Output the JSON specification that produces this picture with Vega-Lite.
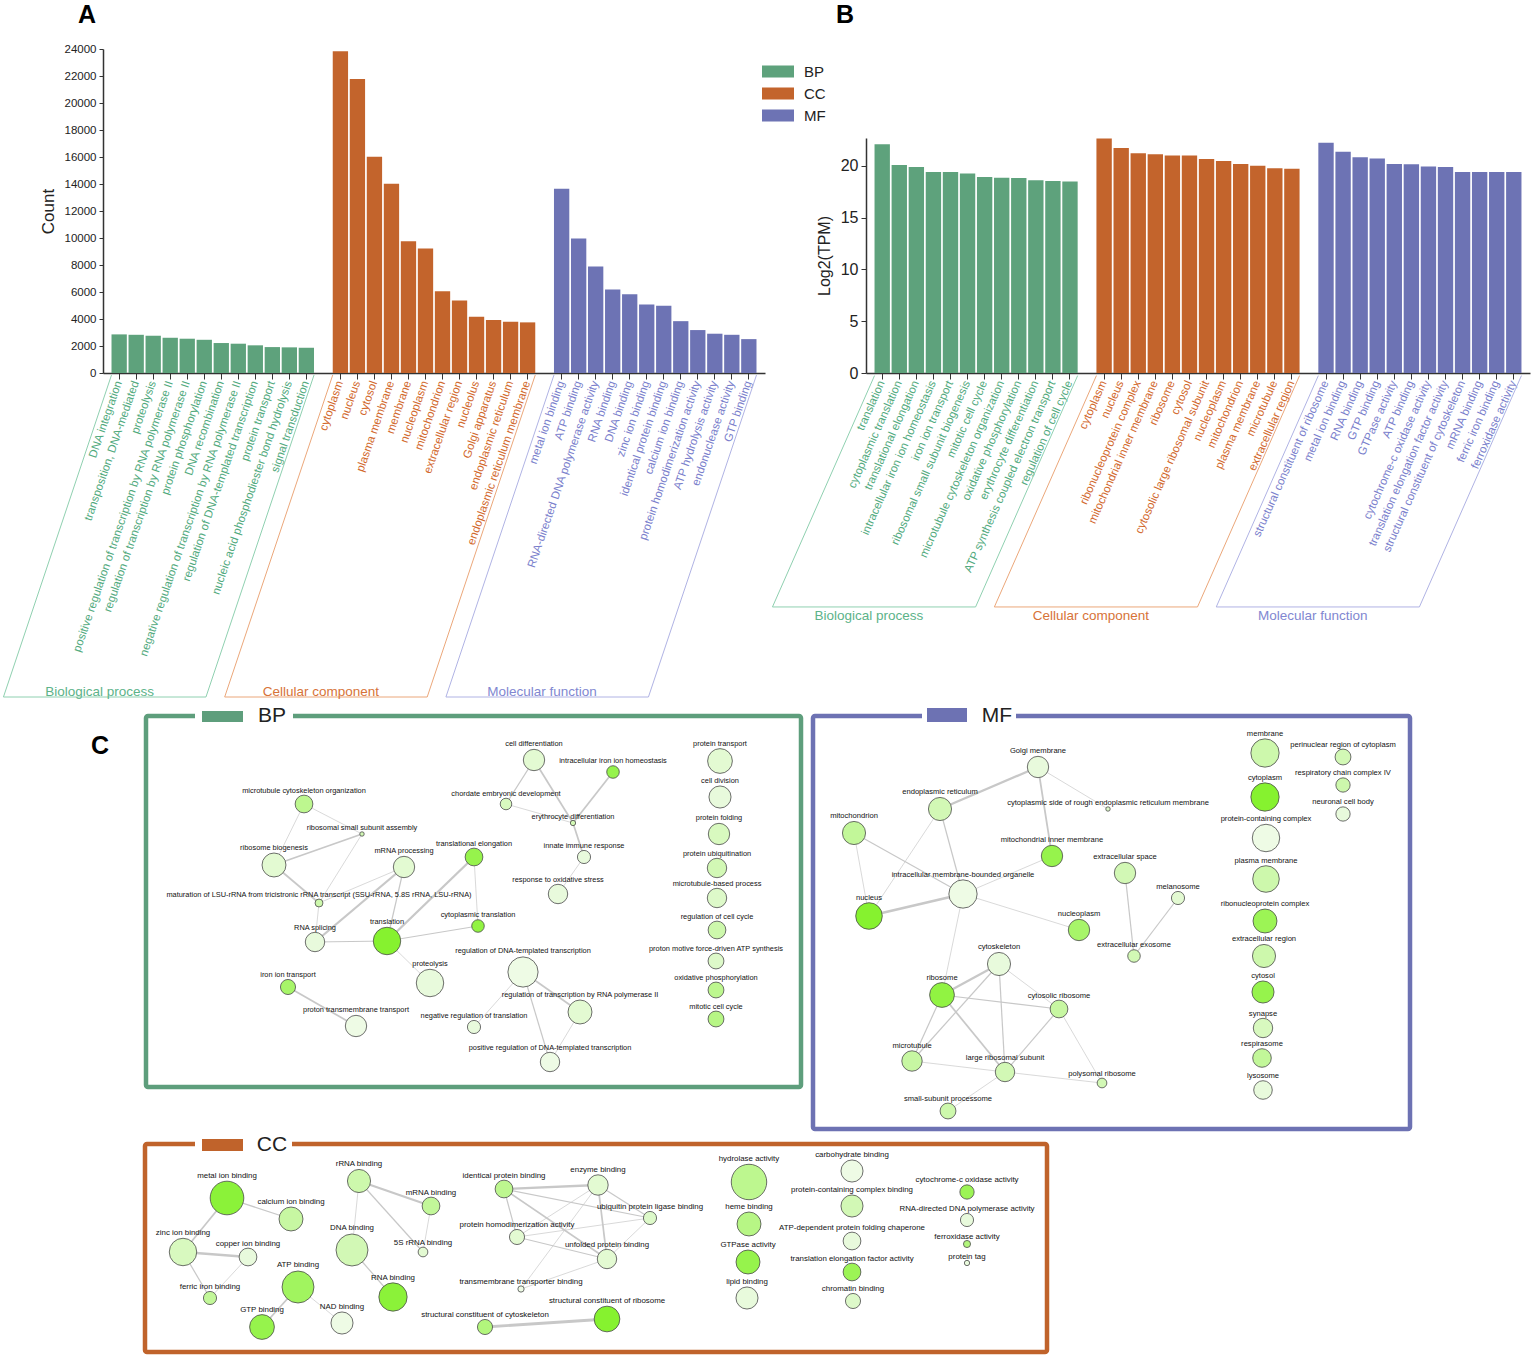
{
  "$schema": "https://vega.github.io/schema/vega-lite/v6.json",
  "width": 1535,
  "height": 1360,
  "padding": 0,
  "autosize": {"type": "none"},
  "background": "white",
  "config": {"view": {"stroke": null}, "font": "Liberation Sans", "axis": {"grid": false}},
  "datasets": {
    "a": [
      {"term": "DNA integration", "cat": "BP", "count": 2860},
      {"term": "transposition, DNA-mediated", "cat": "BP", "count": 2830},
      {"term": "proteolysis", "cat": "BP", "count": 2760},
      {"term": "positive regulation of transcription by RNA polymerase II", "cat": "BP", "count": 2610},
      {"term": "regulation of transcription by RNA polymerase II", "cat": "BP", "count": 2540},
      {"term": "protein phosphorylation", "cat": "BP", "count": 2460},
      {"term": "DNA recombination", "cat": "BP", "count": 2220},
      {"term": "negative regulation of transcription by RNA polymerase II", "cat": "BP", "count": 2170},
      {"term": "regulation of DNA-templated transcription", "cat": "BP", "count": 2050},
      {"term": "protein transport", "cat": "BP", "count": 1920},
      {"term": "nucleic acid phosphodiester bond hydrolysis", "cat": "BP", "count": 1900},
      {"term": "signal transduction", "cat": "BP", "count": 1870},
      {"term": "cytoplasm", "cat": "CC", "count": 23830},
      {"term": "nucleus", "cat": "CC", "count": 21780},
      {"term": "cytosol", "cat": "CC", "count": 16020},
      {"term": "plasma membrane", "cat": "CC", "count": 14020},
      {"term": "membrane", "cat": "CC", "count": 9760},
      {"term": "nucleoplasm", "cat": "CC", "count": 9220},
      {"term": "mitochondrion", "cat": "CC", "count": 6060},
      {"term": "extracellular region", "cat": "CC", "count": 5370},
      {"term": "nucleolus", "cat": "CC", "count": 4170},
      {"term": "Golgi apparatus", "cat": "CC", "count": 3920},
      {"term": "endoplasmic reticulum", "cat": "CC", "count": 3800},
      {"term": "endoplasmic reticulum membrane", "cat": "CC", "count": 3750},
      {"term": "metal ion binding", "cat": "MF", "count": 13650},
      {"term": "ATP binding", "cat": "MF", "count": 9960},
      {"term": "RNA-directed DNA polymerase activity", "cat": "MF", "count": 7890},
      {"term": "RNA binding", "cat": "MF", "count": 6190},
      {"term": "DNA binding", "cat": "MF", "count": 5840},
      {"term": "zinc ion binding", "cat": "MF", "count": 5080},
      {"term": "identical protein binding", "cat": "MF", "count": 4980},
      {"term": "calcium ion binding", "cat": "MF", "count": 3840},
      {"term": "protein homodimerization activity", "cat": "MF", "count": 3180},
      {"term": "ATP hydrolysis activity", "cat": "MF", "count": 2910},
      {"term": "endonuclease activity", "cat": "MF", "count": 2830},
      {"term": "GTP binding", "cat": "MF", "count": 2510}
    ],
    "b": [
      {"term": "translation", "cat": "BP", "tpm": 22.09},
      {"term": "cytoplasmic translation", "cat": "BP", "tpm": 20.1},
      {"term": "translational elongation", "cat": "BP", "tpm": 19.9},
      {"term": "intracellular iron ion homeostasis", "cat": "BP", "tpm": 19.42},
      {"term": "iron ion transport", "cat": "BP", "tpm": 19.42},
      {"term": "ribosomal small subunit biogenesis", "cat": "BP", "tpm": 19.26},
      {"term": "mitotic cell cycle", "cat": "BP", "tpm": 18.94},
      {"term": "microtubule cytoskeleton organization", "cat": "BP", "tpm": 18.87},
      {"term": "oxidative phosphorylation", "cat": "BP", "tpm": 18.84},
      {"term": "erythrocyte differentiation", "cat": "BP", "tpm": 18.62},
      {"term": "ATP synthesis coupled electron transport", "cat": "BP", "tpm": 18.55},
      {"term": "regulation of cell cycle", "cat": "BP", "tpm": 18.49},
      {"term": "cytoplasm", "cat": "CC", "tpm": 22.64},
      {"term": "nucleus", "cat": "CC", "tpm": 21.74},
      {"term": "ribonucleoprotein complex", "cat": "CC", "tpm": 21.22},
      {"term": "mitochondrial inner membrane", "cat": "CC", "tpm": 21.13},
      {"term": "ribosome", "cat": "CC", "tpm": 21.0},
      {"term": "cytosol", "cat": "CC", "tpm": 21.0},
      {"term": "cytosolic large ribosomal subunit", "cat": "CC", "tpm": 20.68},
      {"term": "nucleoplasm", "cat": "CC", "tpm": 20.48},
      {"term": "mitochondrion", "cat": "CC", "tpm": 20.19},
      {"term": "plasma membrane", "cat": "CC", "tpm": 20.03},
      {"term": "microtubule", "cat": "CC", "tpm": 19.77},
      {"term": "extracellular region", "cat": "CC", "tpm": 19.74},
      {"term": "structural constituent of ribosome", "cat": "MF", "tpm": 22.25},
      {"term": "metal ion binding", "cat": "MF", "tpm": 21.38},
      {"term": "RNA binding", "cat": "MF", "tpm": 20.84},
      {"term": "GTP binding", "cat": "MF", "tpm": 20.71},
      {"term": "GTPase activity", "cat": "MF", "tpm": 20.19},
      {"term": "ATP binding", "cat": "MF", "tpm": 20.16},
      {"term": "cytochrome-c oxidase activity", "cat": "MF", "tpm": 19.94},
      {"term": "translation elongation factor activity", "cat": "MF", "tpm": 19.9},
      {"term": "structural constituent of cytoskeleton", "cat": "MF", "tpm": 19.42},
      {"term": "mRNA binding", "cat": "MF", "tpm": 19.42},
      {"term": "ferric iron binding", "cat": "MF", "tpm": 19.42},
      {"term": "ferroxidase activity", "cat": "MF", "tpm": 19.42}
    ],
    "groups": [
      {"cat": "BP", "label": "Biological process", "first": 0, "last": 11},
      {"cat": "CC", "label": "Cellular component", "first": 13, "last": 24},
      {"cat": "MF", "label": "Molecular function", "first": 26, "last": 37}
    ],
    "bp_nodes": [
      {"id": "cell differentiation", "x": 388, "y": 44, "genes": 58, "v": 0.15},
      {"id": "intracellular iron ion homeostasis", "x": 467, "y": 56, "genes": 20, "v": 0.85},
      {"id": "protein transport", "x": 574, "y": 45, "genes": 78, "v": 0.15},
      {"id": "cell division", "x": 574, "y": 81, "genes": 62, "v": 0.1},
      {"id": "microtubule cytoskeleton organization", "x": 158, "y": 88, "genes": 40, "v": 0.5},
      {"id": "chordate embryonic development", "x": 360, "y": 88, "genes": 17, "v": 0.25},
      {"id": "erythrocyte differentiation", "x": 427, "y": 107, "genes": 3.6, "v": 0.3},
      {"id": "ribosomal small subunit assembly", "x": 216, "y": 118, "genes": 2.5, "v": 0.3},
      {"id": "protein folding", "x": 573, "y": 118, "genes": 58, "v": 0.25},
      {"id": "ribosome biogenesis", "x": 128, "y": 149, "genes": 73, "v": 0.15},
      {"id": "translational elongation", "x": 328, "y": 141, "genes": 40, "v": 0.85},
      {"id": "mRNA processing", "x": 258, "y": 151, "genes": 58, "v": 0.15},
      {"id": "innate immune response", "x": 438, "y": 141, "genes": 22, "v": 0.1},
      {"id": "protein ubiquitination", "x": 571, "y": 152, "genes": 48, "v": 0.3},
      {"id": "maturation of LSU-rRNA from tricistronic rRNA transcript (SSU-rRNA, 5.8S rRNA, LSU-rRNA)", "x": 173, "y": 187, "genes": 8, "v": 0.35},
      {"id": "response to oxidative stress", "x": 412, "y": 178, "genes": 48, "v": 0.1},
      {"id": "microtubule-based process", "x": 571, "y": 182, "genes": 48, "v": 0.2},
      {"id": "cytoplasmic translation", "x": 332, "y": 210, "genes": 20, "v": 0.9},
      {"id": "regulation of cell cycle", "x": 571, "y": 214, "genes": 40, "v": 0.35},
      {"id": "RNA splicing", "x": 169, "y": 226, "genes": 48, "v": 0.1},
      {"id": "translation", "x": 241, "y": 225, "genes": 96, "v": 1},
      {"id": "regulation of DNA-templated transcription", "x": 377, "y": 256, "genes": 116, "v": 0.05},
      {"id": "proton motive force-driven ATP synthesis", "x": 570, "y": 245, "genes": 32, "v": 0.2},
      {"id": "iron ion transport", "x": 142, "y": 271, "genes": 29, "v": 0.7},
      {"id": "proteolysis", "x": 284, "y": 267, "genes": 96, "v": 0.1},
      {"id": "oxidative phosphorylation", "x": 570, "y": 274, "genes": 32, "v": 0.5},
      {"id": "regulation of transcription by RNA polymerase II", "x": 434, "y": 296, "genes": 73, "v": 0.15},
      {"id": "mitotic cell cycle", "x": 570, "y": 303, "genes": 32, "v": 0.55},
      {"id": "proton transmembrane transport", "x": 210, "y": 310, "genes": 58, "v": 0.05},
      {"id": "negative regulation of translation", "x": 328, "y": 311, "genes": 22, "v": 0.1},
      {"id": "positive regulation of DNA-templated transcription", "x": 404, "y": 346, "genes": 48, "v": 0.05}
    ],
    "bp_edges": [
      {"s": "microtubule cytoskeleton organization", "t": "ribosomal small subunit assembly", "w": 1},
      {"s": "microtubule cytoskeleton organization", "t": "ribosome biogenesis", "w": 1},
      {"s": "ribosomal small subunit assembly", "t": "ribosome biogenesis", "w": 2},
      {"s": "ribosomal small subunit assembly", "t": "maturation of LSU-rRNA from tricistronic rRNA transcript (SSU-rRNA, 5.8S rRNA, LSU-rRNA)", "w": 1},
      {"s": "ribosome biogenesis", "t": "maturation of LSU-rRNA from tricistronic rRNA transcript (SSU-rRNA, 5.8S rRNA, LSU-rRNA)", "w": 2},
      {"s": "mRNA processing", "t": "maturation of LSU-rRNA from tricistronic rRNA transcript (SSU-rRNA, 5.8S rRNA, LSU-rRNA)", "w": 1},
      {"s": "mRNA processing", "t": "RNA splicing", "w": 2.5},
      {"s": "mRNA processing", "t": "translation", "w": 1.5},
      {"s": "maturation of LSU-rRNA from tricistronic rRNA transcript (SSU-rRNA, 5.8S rRNA, LSU-rRNA)", "t": "RNA splicing", "w": 1},
      {"s": "translation", "t": "RNA splicing", "w": 1.5},
      {"s": "translation", "t": "translational elongation", "w": 2.5},
      {"s": "translation", "t": "cytoplasmic translation", "w": 1.5},
      {"s": "translation", "t": "proteolysis", "w": 1},
      {"s": "translational elongation", "t": "cytoplasmic translation", "w": 1},
      {"s": "iron ion transport", "t": "proton transmembrane transport", "w": 2},
      {"s": "cell differentiation", "t": "chordate embryonic development", "w": 1.5},
      {"s": "cell differentiation", "t": "erythrocyte differentiation", "w": 2},
      {"s": "chordate embryonic development", "t": "erythrocyte differentiation", "w": 1},
      {"s": "intracellular iron ion homeostasis", "t": "erythrocyte differentiation", "w": 2},
      {"s": "erythrocyte differentiation", "t": "innate immune response", "w": 2},
      {"s": "innate immune response", "t": "response to oxidative stress", "w": 1},
      {"s": "regulation of DNA-templated transcription", "t": "regulation of transcription by RNA polymerase II", "w": 2},
      {"s": "regulation of DNA-templated transcription", "t": "positive regulation of DNA-templated transcription", "w": 1.5},
      {"s": "regulation of DNA-templated transcription", "t": "negative regulation of translation", "w": 1},
      {"s": "regulation of transcription by RNA polymerase II", "t": "positive regulation of DNA-templated transcription", "w": 1}
    ],
    "mf_nodes": [
      {"id": "Golgi membrane", "x": 225, "y": 51, "genes": 58, "v": 0.1},
      {"id": "endoplasmic reticulum", "x": 127, "y": 93, "genes": 68, "v": 0.3},
      {"id": "cytoplasmic side of rough endoplasmic reticulum membrane", "x": 295, "y": 93, "genes": 2.5, "v": 0.2},
      {"id": "mitochondrion", "x": 41, "y": 117, "genes": 68, "v": 0.45},
      {"id": "mitochondrial inner membrane", "x": 239, "y": 140, "genes": 58, "v": 0.85},
      {"id": "extracellular space", "x": 312, "y": 157, "genes": 58, "v": 0.3},
      {"id": "intracellular membrane-bounded organelle", "x": 150, "y": 178, "genes": 102, "v": 0.05},
      {"id": "melanosome", "x": 365, "y": 182, "genes": 22, "v": 0.15},
      {"id": "nucleus", "x": 56, "y": 200, "genes": 90, "v": 1},
      {"id": "nucleoplasm", "x": 266, "y": 214, "genes": 58, "v": 0.7},
      {"id": "cytoskeleton", "x": 186, "y": 248, "genes": 68, "v": 0.1},
      {"id": "extracellular exosome", "x": 321, "y": 240, "genes": 20, "v": 0.3},
      {"id": "ribosome", "x": 129, "y": 279, "genes": 78, "v": 0.9},
      {"id": "cytosolic ribosome", "x": 246, "y": 293, "genes": 40, "v": 0.4},
      {"id": "microtubule", "x": 99, "y": 345, "genes": 53, "v": 0.4},
      {"id": "large ribosomal subunit", "x": 192, "y": 356, "genes": 48, "v": 0.3},
      {"id": "polysomal ribosome", "x": 289, "y": 367, "genes": 12, "v": 0.3},
      {"id": "small-subunit processome", "x": 135, "y": 395, "genes": 32, "v": 0.35},
      {"id": "membrane", "x": 452, "y": 37, "genes": 102, "v": 0.35},
      {"id": "perinuclear region of cytoplasm", "x": 530, "y": 41, "genes": 32, "v": 0.3},
      {"id": "cytoplasm", "x": 452, "y": 81, "genes": 102, "v": 1},
      {"id": "respiratory chain complex IV", "x": 530, "y": 69, "genes": 26, "v": 0.35},
      {"id": "neuronal cell body", "x": 530, "y": 98, "genes": 26, "v": 0.1},
      {"id": "protein-containing complex", "x": 453, "y": 122, "genes": 96, "v": 0.05},
      {"id": "plasma membrane", "x": 453, "y": 163, "genes": 90, "v": 0.35},
      {"id": "ribonucleoprotein complex", "x": 452, "y": 205, "genes": 73, "v": 0.8},
      {"id": "extracellular region", "x": 451, "y": 240, "genes": 68, "v": 0.35},
      {"id": "cytosol", "x": 450, "y": 276, "genes": 62, "v": 0.85},
      {"id": "synapse", "x": 450, "y": 312, "genes": 48, "v": 0.25},
      {"id": "respirasome", "x": 449, "y": 342, "genes": 44, "v": 0.45},
      {"id": "lysosome", "x": 450, "y": 374, "genes": 44, "v": 0.1}
    ],
    "mf_edges": [
      {"s": "Golgi membrane", "t": "endoplasmic reticulum", "w": 2.5},
      {"s": "Golgi membrane", "t": "cytoplasmic side of rough endoplasmic reticulum membrane", "w": 1},
      {"s": "Golgi membrane", "t": "mitochondrial inner membrane", "w": 2},
      {"s": "endoplasmic reticulum", "t": "nucleus", "w": 1},
      {"s": "endoplasmic reticulum", "t": "intracellular membrane-bounded organelle", "w": 1.5},
      {"s": "mitochondrion", "t": "nucleus", "w": 1},
      {"s": "mitochondrion", "t": "intracellular membrane-bounded organelle", "w": 1.5},
      {"s": "mitochondrial inner membrane", "t": "intracellular membrane-bounded organelle", "w": 1},
      {"s": "intracellular membrane-bounded organelle", "t": "nucleus", "w": 3},
      {"s": "intracellular membrane-bounded organelle", "t": "nucleoplasm", "w": 1},
      {"s": "intracellular membrane-bounded organelle", "t": "ribosome", "w": 1},
      {"s": "extracellular space", "t": "extracellular exosome", "w": 1.5},
      {"s": "melanosome", "t": "extracellular exosome", "w": 1.5},
      {"s": "cytoskeleton", "t": "ribosome", "w": 2.5},
      {"s": "cytoskeleton", "t": "cytosolic ribosome", "w": 1},
      {"s": "cytoskeleton", "t": "large ribosomal subunit", "w": 1.5},
      {"s": "cytoskeleton", "t": "microtubule", "w": 1.5},
      {"s": "ribosome", "t": "cytosolic ribosome", "w": 1.5},
      {"s": "ribosome", "t": "microtubule", "w": 1.5},
      {"s": "ribosome", "t": "large ribosomal subunit", "w": 2},
      {"s": "cytosolic ribosome", "t": "large ribosomal subunit", "w": 1.5},
      {"s": "cytosolic ribosome", "t": "polysomal ribosome", "w": 1},
      {"s": "microtubule", "t": "large ribosomal subunit", "w": 1},
      {"s": "large ribosomal subunit", "t": "polysomal ribosome", "w": 1},
      {"s": "large ribosomal subunit", "t": "small-subunit processome", "w": 1}
    ],
    "cc_nodes": [
      {"id": "metal ion binding", "x": 82, "y": 54, "genes": 144, "v": 0.95},
      {"id": "calcium ion binding", "x": 146, "y": 75, "genes": 73, "v": 0.4},
      {"id": "rRNA binding", "x": 214, "y": 37, "genes": 68, "v": 0.35},
      {"id": "mRNA binding", "x": 286, "y": 62, "genes": 40, "v": 0.45},
      {"id": "zinc ion binding", "x": 38, "y": 108, "genes": 96, "v": 0.25},
      {"id": "copper ion binding", "x": 103, "y": 113, "genes": 40, "v": 0.1},
      {"id": "DNA binding", "x": 207, "y": 106, "genes": 130, "v": 0.3},
      {"id": "5S rRNA binding", "x": 278, "y": 108, "genes": 12, "v": 0.15},
      {"id": "ATP binding", "x": 153, "y": 143, "genes": 130, "v": 0.75},
      {"id": "ferric iron binding", "x": 65, "y": 154, "genes": 22, "v": 0.45},
      {"id": "RNA binding", "x": 248, "y": 153, "genes": 102, "v": 0.95},
      {"id": "GTP binding", "x": 117, "y": 183, "genes": 78, "v": 0.85},
      {"id": "NAD binding", "x": 197, "y": 179, "genes": 62, "v": 0.05},
      {"id": "identical protein binding", "x": 359, "y": 45, "genes": 40, "v": 0.5},
      {"id": "enzyme binding", "x": 453, "y": 41, "genes": 53, "v": 0.15},
      {"id": "ubiquitin protein ligase binding", "x": 505, "y": 74, "genes": 22, "v": 0.2},
      {"id": "protein homodimerization activity", "x": 372, "y": 93, "genes": 29, "v": 0.15},
      {"id": "unfolded protein binding", "x": 462, "y": 115, "genes": 48, "v": 0.15},
      {"id": "transmembrane transporter binding", "x": 376, "y": 145, "genes": 5, "v": 0.05},
      {"id": "structural constituent of ribosome", "x": 462, "y": 175, "genes": 84, "v": 1},
      {"id": "structural constituent of cytoskeleton", "x": 340, "y": 183, "genes": 29, "v": 0.6},
      {"id": "hydrolase activity", "x": 604, "y": 38, "genes": 160, "v": 0.5},
      {"id": "carbohydrate binding", "x": 707, "y": 27, "genes": 62, "v": 0.05},
      {"id": "cytochrome-c oxidase activity", "x": 822, "y": 48, "genes": 26, "v": 0.8},
      {"id": "protein-containing complex binding", "x": 707, "y": 62, "genes": 62, "v": 0.3},
      {"id": "heme binding", "x": 604, "y": 80, "genes": 73, "v": 0.55},
      {"id": "RNA-directed DNA polymerase activity", "x": 822, "y": 76, "genes": 22, "v": 0.1},
      {"id": "ATP-dependent protein folding chaperone", "x": 707, "y": 97, "genes": 40, "v": 0.1},
      {"id": "ferroxidase activity", "x": 822, "y": 100, "genes": 6.4, "v": 0.6},
      {"id": "GTPase activity", "x": 603, "y": 118, "genes": 73, "v": 0.85},
      {"id": "protein tag", "x": 822, "y": 119, "genes": 3.6, "v": 0.1},
      {"id": "translation elongation factor activity", "x": 707, "y": 128, "genes": 40, "v": 0.8},
      {"id": "lipid binding", "x": 602, "y": 154, "genes": 62, "v": 0.1},
      {"id": "chromatin binding", "x": 708, "y": 157, "genes": 29, "v": 0.2}
    ],
    "cc_edges": [
      {"s": "metal ion binding", "t": "calcium ion binding", "w": 1.5},
      {"s": "metal ion binding", "t": "zinc ion binding", "w": 2},
      {"s": "zinc ion binding", "t": "copper ion binding", "w": 2.5},
      {"s": "zinc ion binding", "t": "ferric iron binding", "w": 1.5},
      {"s": "copper ion binding", "t": "ferric iron binding", "w": 1},
      {"s": "ATP binding", "t": "GTP binding", "w": 2},
      {"s": "ATP binding", "t": "NAD binding", "w": 1},
      {"s": "rRNA binding", "t": "mRNA binding", "w": 2.5},
      {"s": "rRNA binding", "t": "5S rRNA binding", "w": 1.5},
      {"s": "rRNA binding", "t": "DNA binding", "w": 1},
      {"s": "mRNA binding", "t": "5S rRNA binding", "w": 1},
      {"s": "DNA binding", "t": "RNA binding", "w": 1.5},
      {"s": "identical protein binding", "t": "enzyme binding", "w": 2.5},
      {"s": "identical protein binding", "t": "protein homodimerization activity", "w": 1.5},
      {"s": "identical protein binding", "t": "ubiquitin protein ligase binding", "w": 1.5},
      {"s": "identical protein binding", "t": "unfolded protein binding", "w": 2},
      {"s": "enzyme binding", "t": "protein homodimerization activity", "w": 1},
      {"s": "enzyme binding", "t": "ubiquitin protein ligase binding", "w": 1.5},
      {"s": "enzyme binding", "t": "unfolded protein binding", "w": 2},
      {"s": "enzyme binding", "t": "transmembrane transporter binding", "w": 1},
      {"s": "protein homodimerization activity", "t": "unfolded protein binding", "w": 1.5},
      {"s": "protein homodimerization activity", "t": "ubiquitin protein ligase binding", "w": 1},
      {"s": "unfolded protein binding", "t": "ubiquitin protein ligase binding", "w": 1},
      {"s": "unfolded protein binding", "t": "transmembrane transporter binding", "w": 1},
      {"s": "structural constituent of cytoskeleton", "t": "structural constituent of ribosome", "w": 3}
    ]
  },
  "layer": [
    {
      "layer": [
        {
          "data": {"name": "a"},
          "mark": {"type": "bar"},
          "encoding": {
            "x": {
              "field": "term", "type": "nominal",
              "scale": {"type": "band", "range": [103, 765], "paddingInner": 0.1, "paddingOuter": 0.5,
                "domain": ["DNA integration", "transposition, DNA-mediated", "proteolysis", "positive regulation of transcription by RNA polymerase II", "regulation of transcription by RNA polymerase II", "protein phosphorylation", "DNA recombination", "negative regulation of transcription by RNA polymerase II", "regulation of DNA-templated transcription", "protein transport", "nucleic acid phosphodiester bond hydrolysis", "signal transduction", "gap1", "cytoplasm", "nucleus", "cytosol", "plasma membrane", "membrane", "nucleoplasm", "mitochondrion", "extracellular region", "nucleolus", "Golgi apparatus", "endoplasmic reticulum", "endoplasmic reticulum membrane", "gap2", "metal ion binding", "ATP binding", "RNA-directed DNA polymerase activity", "RNA binding", "DNA binding", "zinc ion binding", "identical protein binding", "calcium ion binding", "protein homodimerization activity", "ATP hydrolysis activity", "endonuclease activity", "GTP binding"]},
              "axis": {
                "orient": "bottom", "offset": -987, "title": null,
                "values": ["DNA integration", "transposition, DNA-mediated", "proteolysis", "positive regulation of transcription by RNA polymerase II", "regulation of transcription by RNA polymerase II", "protein phosphorylation", "DNA recombination", "negative regulation of transcription by RNA polymerase II", "regulation of DNA-templated transcription", "protein transport", "nucleic acid phosphodiester bond hydrolysis", "signal transduction", "cytoplasm", "nucleus", "cytosol", "plasma membrane", "membrane", "nucleoplasm", "mitochondrion", "extracellular region", "nucleolus", "Golgi apparatus", "endoplasmic reticulum", "endoplasmic reticulum membrane", "metal ion binding", "ATP binding", "RNA-directed DNA polymerase activity", "RNA binding", "DNA binding", "zinc ion binding", "identical protein binding", "calcium ion binding", "protein homodimerization activity", "ATP hydrolysis activity", "endonuclease activity", "GTP binding"],
                "labelAngle": -71, "labelFontSize": 11.5, "labelLimit": 400, "labelOverlap": false, "labelPadding": 2,
                "labelColor": {"expr": "datum.index < 0.33 ? '#52aa7e' : datum.index < 0.67 ? '#d2692e' : '#7a80cc'"},
                "tickSize": 6, "tickColor": "#333333", "domainColor": "#333333", "domainWidth": 1.5
              }
            },
            "y": {
              "field": "count", "type": "quantitative", "stack": null,
              "scale": {"domain": [0, 24000], "range": [373, 49], "nice": false, "zero": false},
              "axis": {
                "orient": "left", "offset": -103, "title": "Count", "format": "d",
                "values": [0, 2000, 4000, 6000, 8000, 10000, 12000, 14000, 16000, 18000, 20000, 22000, 24000],
                "titleFontSize": 17, "titleFontWeight": "normal", "titleColor": "#222222", "titlePadding": 7,
                "labelFontSize": 11.5, "labelColor": "#222222", "labelPadding": 3,
                "tickSize": 4, "tickColor": "#333333", "domainColor": "#333333", "domainWidth": 1.5
              }
            },
            "color": {
              "field": "cat", "type": "nominal",
              "scale": {"domain": ["BP", "CC", "MF"], "range": ["#5ea27c", "#c3642c", "#6d73b4"]},
              "legend": {
                "orient": "none", "legendX": 762, "legendY": 65, "title": null,
                "symbolType": "M-1,-0.375H1V0.375H-1Z", "symbolSize": 1024, "symbolStrokeWidth": 0,
                "clipHeight": 13, "rowPadding": 6, "labelFontSize": 15, "labelOffset": 10, "labelColor": "#222222"
              }
            }
          }
        },
        {
          "data": {"name": "groups"},
          "transform": [
            {"calculate": "datum.first - 0.45", "as": "xl"},
            {"calculate": "datum.last + 0.45", "as": "xr"},
            {"calculate": "datum.first - 0.45 - 6.35", "as": "xlb"},
            {"calculate": "datum.last + 0.45 - 6.35", "as": "xrb"},
            {"calculate": "(datum.first + datum.last) / 2 - 6.35 - 0.3", "as": "xm"}
          ],
          "layer": [
            {
              "mark": {"type": "rule", "strokeWidth": 1},
              "encoding": {
                "x": {"field": "xl", "type": "quantitative", "scale": {"domain": [-0.95, 37.95], "range": [103, 765], "nice": false, "zero": false}, "axis": null},
                "x2": {"field": "xlb"},
                "y": {"datum": -150, "type": "quantitative", "scale": {"domain": [0, 24000], "range": [373, 49], "nice": false, "zero": false}, "axis": null},
                "y2": {"datum": -24000},
                "stroke": {"field": "cat", "type": "nominal", "scale": {"domain": ["BP", "CC", "MF"], "range": ["#8fd0b0", "#eba77a", "#b0b3e4"]}, "legend": null}
              }
            },
            {
              "mark": {"type": "rule", "strokeWidth": 1},
              "encoding": {
                "x": {"field": "xr", "type": "quantitative", "axis": null},
                "x2": {"field": "xrb"},
                "y": {"datum": -150, "type": "quantitative", "axis": null},
                "y2": {"datum": -24000},
                "stroke": {"field": "cat", "type": "nominal", "legend": null}
              }
            },
            {
              "mark": {"type": "rule", "strokeWidth": 1},
              "encoding": {
                "x": {"field": "xlb", "type": "quantitative", "axis": null},
                "x2": {"field": "xrb"},
                "y": {"datum": -24000, "type": "quantitative", "axis": null},
                "stroke": {"field": "cat", "type": "nominal", "legend": null}
              }
            },
            {
              "mark": {"type": "text", "fontSize": 13.5, "baseline": "alphabetic", "dy": -1},
              "encoding": {
                "x": {"field": "xm", "type": "quantitative", "axis": null},
                "y": {"datum": -24000, "type": "quantitative", "axis": null},
                "text": {"field": "label"},
                "fill": {"field": "cat", "type": "nominal", "scale": {"domain": ["BP", "CC", "MF"], "range": ["#5cb389", "#d77338", "#8187d1"]}, "legend": null}
              }
            },
            {
              "data": {"values": [{}]},
              "mark": {"type": "text", "text": "A", "fontSize": 25, "fontWeight": "bold", "fill": "#000000", "baseline": "middle"},
              "encoding": {
                "x": {"datum": -1.89, "type": "quantitative", "axis": null},
                "y": {"datum": 26500, "type": "quantitative", "axis": null}
              }
            }
          ]
        }
      ],
      "resolve": {"scale": {"x": "independent", "y": "independent"}}
    },
    {
      "layer": [
        {
          "data": {"name": "b"},
          "mark": {"type": "bar"},
          "encoding": {
            "x": {
              "field": "term", "type": "nominal",
              "scale": {"type": "band", "range": [866, 1530], "paddingInner": 0.1, "paddingOuter": 0.5,
                "domain": ["translation", "cytoplasmic translation", "translational elongation", "intracellular iron ion homeostasis", "iron ion transport", "ribosomal small subunit biogenesis", "mitotic cell cycle", "microtubule cytoskeleton organization", "oxidative phosphorylation", "erythrocyte differentiation", "ATP synthesis coupled electron transport", "regulation of cell cycle", "gap1", "cytoplasm", "nucleus", "ribonucleoprotein complex", "mitochondrial inner membrane", "ribosome", "cytosol", "cytosolic large ribosomal subunit", "nucleoplasm", "mitochondrion", "plasma membrane", "microtubule", "extracellular region", "gap2", "structural constituent of ribosome", "metal ion binding", "RNA binding", "GTP binding", "GTPase activity", "ATP binding", "cytochrome-c oxidase activity", "translation elongation factor activity", "structural constituent of cytoskeleton", "mRNA binding", "ferric iron binding", "ferroxidase activity"]},
              "axis": {
                "orient": "bottom", "offset": -987, "title": null,
                "values": ["translation", "cytoplasmic translation", "translational elongation", "intracellular iron ion homeostasis", "iron ion transport", "ribosomal small subunit biogenesis", "mitotic cell cycle", "microtubule cytoskeleton organization", "oxidative phosphorylation", "erythrocyte differentiation", "ATP synthesis coupled electron transport", "regulation of cell cycle", "cytoplasm", "nucleus", "ribonucleoprotein complex", "mitochondrial inner membrane", "ribosome", "cytosol", "cytosolic large ribosomal subunit", "nucleoplasm", "mitochondrion", "plasma membrane", "microtubule", "extracellular region", "structural constituent of ribosome", "metal ion binding", "RNA binding", "GTP binding", "GTPase activity", "ATP binding", "cytochrome-c oxidase activity", "translation elongation factor activity", "structural constituent of cytoskeleton", "mRNA binding", "ferric iron binding", "ferroxidase activity"],
                "labelAngle": -66, "labelFontSize": 11.5, "labelLimit": 400, "labelOverlap": false, "labelPadding": 2,
                "labelColor": {"expr": "datum.index < 0.33 ? '#52aa7e' : datum.index < 0.67 ? '#d2692e' : '#7a80cc'"},
                "tickSize": 6, "tickColor": "#333333", "domainColor": "#333333", "domainWidth": 1.5
              }
            },
            "y": {
              "field": "tpm", "type": "quantitative", "stack": null,
              "scale": {"domain": [0, 22.7], "range": [373, 138], "nice": false, "zero": false},
              "axis": {
                "orient": "left", "offset": -866, "title": "Log2(TPM)",
                "values": [0, 5, 10, 15, 20],
                "titleFontSize": 16, "titleFontWeight": "normal", "titleColor": "#222222", "titlePadding": 8,
                "labelFontSize": 16, "labelColor": "#222222", "labelPadding": 3,
                "tickSize": 5, "tickColor": "#333333", "domainColor": "#333333", "domainWidth": 1.5
              }
            },
            "color": {
              "field": "cat", "type": "nominal",
              "scale": {"domain": ["BP", "CC", "MF"], "range": ["#5ea27c", "#c3642c", "#6d73b4"]},
              "legend": null
            }
          }
        },
        {
          "data": {"name": "groups"},
          "transform": [
            {"calculate": "datum.first - 0.45", "as": "xl"},
            {"calculate": "datum.last + 0.45", "as": "xr"},
            {"calculate": "datum.first - 0.45 - 5.98", "as": "xlb"},
            {"calculate": "datum.last + 0.45 - 5.98", "as": "xrb"},
            {"calculate": "(datum.first + datum.last) / 2 - 5.98 - 0.3", "as": "xm"}
          ],
          "layer": [
            {
              "mark": {"type": "rule", "strokeWidth": 1},
              "encoding": {
                "x": {"field": "xl", "type": "quantitative", "scale": {"domain": [-0.95, 37.95], "range": [866, 1530], "nice": false, "zero": false}, "axis": null},
                "x2": {"field": "xlb"},
                "y": {"datum": -0.25, "type": "quantitative", "scale": {"domain": [0, 22.7], "range": [373, 138], "nice": false, "zero": false}, "axis": null},
                "y2": {"datum": -22.6},
                "stroke": {"field": "cat", "type": "nominal", "scale": {"domain": ["BP", "CC", "MF"], "range": ["#8fd0b0", "#eba77a", "#b0b3e4"]}, "legend": null}
              }
            },
            {
              "mark": {"type": "rule", "strokeWidth": 1},
              "encoding": {
                "x": {"field": "xr", "type": "quantitative", "axis": null},
                "x2": {"field": "xrb"},
                "y": {"datum": -0.25, "type": "quantitative", "axis": null},
                "y2": {"datum": -22.6},
                "stroke": {"field": "cat", "type": "nominal", "legend": null}
              }
            },
            {
              "mark": {"type": "rule", "strokeWidth": 1},
              "encoding": {
                "x": {"field": "xlb", "type": "quantitative", "axis": null},
                "x2": {"field": "xrb"},
                "y": {"datum": -22.6, "type": "quantitative", "axis": null},
                "stroke": {"field": "cat", "type": "nominal", "legend": null}
              }
            },
            {
              "mark": {"type": "text", "fontSize": 13.5, "baseline": "top", "dy": 2},
              "encoding": {
                "x": {"field": "xm", "type": "quantitative", "axis": null},
                "y": {"datum": -22.6, "type": "quantitative", "axis": null},
                "text": {"field": "label"},
                "fill": {"field": "cat", "type": "nominal", "scale": {"domain": ["BP", "CC", "MF"], "range": ["#5cb389", "#d77338", "#8187d1"]}, "legend": null}
              }
            },
            {
              "data": {"values": [{}]},
              "mark": {"type": "text", "text": "B", "fontSize": 25, "fontWeight": "bold", "fill": "#000000", "baseline": "middle"},
              "encoding": {
                "x": {"datum": -2.18, "type": "quantitative", "axis": null},
                "y": {"datum": 34.6, "type": "quantitative", "axis": null}
              }
            }
          ]
        }
      ],
      "resolve": {"scale": {"x": "independent", "y": "independent"}}
    },
    {
      "layer": [
        {
          "data": {"values": [{}]},
          "mark": {"type": "rect", "filled": false, "stroke": "#5e9e7c", "strokeWidth": 4.5, "cornerRadius": 2},
          "encoding": {
            "x": {"datum": 0, "type": "quantitative", "scale": {"domain": [0, 655], "range": [146, 801], "nice": false, "zero": false}, "axis": null},
            "x2": {"datum": 655},
            "y": {"datum": 0, "type": "quantitative", "scale": {"domain": [0, 371], "range": [716, 1087], "nice": false, "zero": false}, "axis": null},
            "y2": {"datum": 371}
          }
        },
        {
          "data": {"values": [{}]},
          "mark": {"type": "rect", "fill": "white"},
          "encoding": {"x": {"datum": 49, "type": "quantitative", "axis": null}, "x2": {"datum": 147}, "y": {"datum": -4, "type": "quantitative", "axis": null}, "y2": {"datum": 4}}
        },
        {
          "data": {"values": [{}]},
          "mark": {"type": "rect", "fill": "#5e9e7c"},
          "encoding": {"x": {"datum": 56, "type": "quantitative", "axis": null}, "x2": {"datum": 97}, "y": {"datum": -5, "type": "quantitative", "axis": null}, "y2": {"datum": 6}}
        },
        {
          "data": {"values": [{}]},
          "mark": {"type": "text", "text": "BP", "fontSize": 21, "fill": "#222222", "baseline": "middle"},
          "encoding": {"x": {"datum": 126, "type": "quantitative", "axis": null}, "y": {"datum": 0, "type": "quantitative", "axis": null}}
        },
        {
          "data": {"values": [{}]},
          "mark": {"type": "text", "text": "C", "fontSize": 25, "fontWeight": "bold", "fill": "#000000", "baseline": "middle"},
          "encoding": {"x": {"datum": -46, "type": "quantitative", "axis": null}, "y": {"datum": 30, "type": "quantitative", "axis": null}}
        },
        {
          "data": {"name": "bp_edges"},
          "transform": [
            {"lookup": "s", "from": {"data": {"name": "bp_nodes"}, "key": "id", "fields": ["x", "y"]}, "as": ["sx", "sy"]},
            {"lookup": "t", "from": {"data": {"name": "bp_nodes"}, "key": "id", "fields": ["x", "y"]}, "as": ["tx", "ty"]}
          ],
          "mark": {"type": "rule", "stroke": "#c8c8c8"},
          "encoding": {
            "x": {"field": "sx", "type": "quantitative", "axis": null},
            "y": {"field": "sy", "type": "quantitative", "axis": null},
            "x2": {"field": "tx"},
            "y2": {"field": "ty"},
            "strokeWidth": {"field": "w", "type": "quantitative", "scale": {"domain": [1, 3], "range": [0.7, 2.8]}, "legend": null}
          }
        },
        {
          "data": {"name": "bp_nodes"},
          "mark": {"type": "circle", "opacity": 1, "stroke": "#4a4a4a", "strokeWidth": 0.8},
          "encoding": {
            "x": {"field": "x", "type": "quantitative", "axis": null},
            "y": {"field": "y", "type": "quantitative", "axis": null},
            "size": {"field": "genes", "type": "quantitative", "scale": {"type": "linear", "domain": [0, 160], "range": [0, 1257], "zero": true}, "legend": null},
            "fill": {"field": "v", "type": "quantitative", "scale": {"domain": [0, 1], "range": ["#f3fbef", "#86f22f"], "interpolate": "rgb"}, "legend": null}
          }
        },
        {
          "data": {"name": "bp_nodes"},
          "transform": [{"calculate": "datum.y - sqrt(datum.genes * 10) / 2 - 1.5", "as": "ly"}],
          "mark": {"type": "text", "fontSize": 7.4, "fill": "#111111", "baseline": "alphabetic", "align": "center"},
          "encoding": {
            "x": {"field": "x", "type": "quantitative", "axis": null},
            "y": {"field": "ly", "type": "quantitative", "axis": null},
            "text": {"field": "id"}
          }
        }
      ]
    },
    {
      "layer": [
        {
          "data": {"values": [{}]},
          "mark": {"type": "rect", "filled": false, "stroke": "#6d72b3", "strokeWidth": 4.5, "cornerRadius": 2},
          "encoding": {
            "x": {"datum": 0, "type": "quantitative", "scale": {"domain": [0, 597], "range": [813, 1410], "nice": false, "zero": false}, "axis": null},
            "x2": {"datum": 597},
            "y": {"datum": 0, "type": "quantitative", "scale": {"domain": [0, 413], "range": [716, 1129], "nice": false, "zero": false}, "axis": null},
            "y2": {"datum": 413}
          }
        },
        {
          "data": {"values": [{}]},
          "mark": {"type": "rect", "fill": "white"},
          "encoding": {"x": {"datum": 109, "type": "quantitative", "axis": null}, "x2": {"datum": 203}, "y": {"datum": -4, "type": "quantitative", "axis": null}, "y2": {"datum": 4}}
        },
        {
          "data": {"values": [{}]},
          "mark": {"type": "rect", "fill": "#6d72b3"},
          "encoding": {"x": {"datum": 114, "type": "quantitative", "axis": null}, "x2": {"datum": 154}, "y": {"datum": -8, "type": "quantitative", "axis": null}, "y2": {"datum": 6}}
        },
        {
          "data": {"values": [{}]},
          "mark": {"type": "text", "text": "MF", "fontSize": 21, "fill": "#222222", "baseline": "middle"},
          "encoding": {"x": {"datum": 184, "type": "quantitative", "axis": null}, "y": {"datum": 0, "type": "quantitative", "axis": null}}
        },
        {
          "data": {"name": "mf_edges"},
          "transform": [
            {"lookup": "s", "from": {"data": {"name": "mf_nodes"}, "key": "id", "fields": ["x", "y"]}, "as": ["sx", "sy"]},
            {"lookup": "t", "from": {"data": {"name": "mf_nodes"}, "key": "id", "fields": ["x", "y"]}, "as": ["tx", "ty"]}
          ],
          "mark": {"type": "rule", "stroke": "#c8c8c8"},
          "encoding": {
            "x": {"field": "sx", "type": "quantitative", "axis": null},
            "y": {"field": "sy", "type": "quantitative", "axis": null},
            "x2": {"field": "tx"},
            "y2": {"field": "ty"},
            "strokeWidth": {"field": "w", "type": "quantitative", "scale": {"domain": [1, 3], "range": [0.7, 2.8]}, "legend": null}
          }
        },
        {
          "data": {"name": "mf_nodes"},
          "mark": {"type": "circle", "opacity": 1, "stroke": "#4a4a4a", "strokeWidth": 0.8},
          "encoding": {
            "x": {"field": "x", "type": "quantitative", "axis": null},
            "y": {"field": "y", "type": "quantitative", "axis": null},
            "size": {"field": "genes", "type": "quantitative", "scale": {"type": "linear", "domain": [0, 160], "range": [0, 1257], "zero": true}, "legend": null},
            "fill": {"field": "v", "type": "quantitative", "scale": {"domain": [0, 1], "range": ["#f3fbef", "#86f22f"], "interpolate": "rgb"}, "legend": null}
          }
        },
        {
          "data": {"name": "mf_nodes"},
          "transform": [{"calculate": "datum.y - sqrt(datum.genes * 10) / 2 - 1.5", "as": "ly"}],
          "mark": {"type": "text", "fontSize": 7.6, "fill": "#111111", "baseline": "alphabetic", "align": "center"},
          "encoding": {
            "x": {"field": "x", "type": "quantitative", "axis": null},
            "y": {"field": "ly", "type": "quantitative", "axis": null},
            "text": {"field": "id"}
          }
        }
      ]
    },
    {
      "layer": [
        {
          "data": {"values": [{}]},
          "mark": {"type": "rect", "filled": false, "stroke": "#c0632b", "strokeWidth": 4.5, "cornerRadius": 2},
          "encoding": {
            "x": {"datum": 0, "type": "quantitative", "scale": {"domain": [0, 902], "range": [145, 1047], "nice": false, "zero": false}, "axis": null},
            "x2": {"datum": 902},
            "y": {"datum": 0, "type": "quantitative", "scale": {"domain": [0, 208], "range": [1144, 1352], "nice": false, "zero": false}, "axis": null},
            "y2": {"datum": 208}
          }
        },
        {
          "data": {"values": [{}]},
          "mark": {"type": "rect", "fill": "white"},
          "encoding": {"x": {"datum": 50, "type": "quantitative", "axis": null}, "x2": {"datum": 147}, "y": {"datum": -4, "type": "quantitative", "axis": null}, "y2": {"datum": 4}}
        },
        {
          "data": {"values": [{}]},
          "mark": {"type": "rect", "fill": "#c0632b"},
          "encoding": {"x": {"datum": 57, "type": "quantitative", "axis": null}, "x2": {"datum": 98}, "y": {"datum": -5, "type": "quantitative", "axis": null}, "y2": {"datum": 7}}
        },
        {
          "data": {"values": [{}]},
          "mark": {"type": "text", "text": "CC", "fontSize": 21, "fill": "#222222", "baseline": "middle"},
          "encoding": {"x": {"datum": 127, "type": "quantitative", "axis": null}, "y": {"datum": 1, "type": "quantitative", "axis": null}}
        },
        {
          "data": {"name": "cc_edges"},
          "transform": [
            {"lookup": "s", "from": {"data": {"name": "cc_nodes"}, "key": "id", "fields": ["x", "y"]}, "as": ["sx", "sy"]},
            {"lookup": "t", "from": {"data": {"name": "cc_nodes"}, "key": "id", "fields": ["x", "y"]}, "as": ["tx", "ty"]}
          ],
          "mark": {"type": "rule", "stroke": "#c8c8c8"},
          "encoding": {
            "x": {"field": "sx", "type": "quantitative", "axis": null},
            "y": {"field": "sy", "type": "quantitative", "axis": null},
            "x2": {"field": "tx"},
            "y2": {"field": "ty"},
            "strokeWidth": {"field": "w", "type": "quantitative", "scale": {"domain": [1, 3], "range": [0.7, 2.8]}, "legend": null}
          }
        },
        {
          "data": {"name": "cc_nodes"},
          "mark": {"type": "circle", "opacity": 1, "stroke": "#4a4a4a", "strokeWidth": 0.8},
          "encoding": {
            "x": {"field": "x", "type": "quantitative", "axis": null},
            "y": {"field": "y", "type": "quantitative", "axis": null},
            "size": {"field": "genes", "type": "quantitative", "scale": {"type": "linear", "domain": [0, 160], "range": [0, 1257], "zero": true}, "legend": null},
            "fill": {"field": "v", "type": "quantitative", "scale": {"domain": [0, 1], "range": ["#f3fbef", "#86f22f"], "interpolate": "rgb"}, "legend": null}
          }
        },
        {
          "data": {"name": "cc_nodes"},
          "transform": [{"calculate": "datum.y - sqrt(datum.genes * 10) / 2 - 1.5", "as": "ly"}],
          "mark": {"type": "text", "fontSize": 7.9, "fill": "#111111", "baseline": "alphabetic", "align": "center"},
          "encoding": {
            "x": {"field": "x", "type": "quantitative", "axis": null},
            "y": {"field": "ly", "type": "quantitative", "axis": null},
            "text": {"field": "id"}
          }
        }
      ]
    }
  ],
  "resolve": {"scale": {"x": "independent", "y": "independent", "color": "independent", "fill": "independent", "stroke": "independent", "size": "independent", "strokeWidth": "independent"}}
}
